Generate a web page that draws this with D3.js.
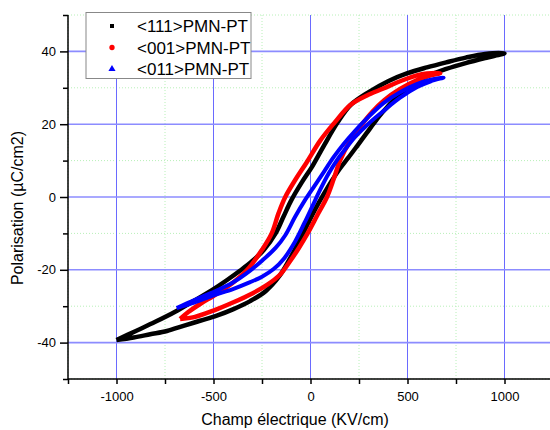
<!DOCTYPE html>
<html>
<head>
<meta charset="utf-8">
<script src="https://cdn.jsdelivr.net/npm/d3@7"></script>
<style>
  body { margin:0; background:#fff; }
  text { font-family: Arial, "Liberation Sans", sans-serif; }
</style>
</head>
<body>
<div id="chart"></div>
<script>
// hysteresis loops: [E (KV/cm), P (uC/cm2)]
let seriesNames = ["<111>PMN-PT", "<001>PMN-PT", "<011>PMN-PT"];
let seriesColors = ["#000000", "#ff0000", "#0000ff"];

let loop111 = [
  [-1000,-39.3],[-912,-38.6],[-826,-37.7],[-740,-36.8],[-655,-35.4],[-569,-34.0],[-483,-32.6],
  [-397,-30.8],[-311,-28.6],[-230,-25.8],[-160,-21.7],[-110,-17.3],[-60,-12.3],[-20,-8],
  [20,-3.8],[65,0.5],[110,4.5],[150,7.7],[195,10.8],[240,14],[290,17.6],[330,20.5],
  [380,23.8],[445,27.4],[514,30.5],[600,33.2],[700,35.2],[800,36.8],[900,38.2],[1000,39.5],
  [900,39.3],[800,38.3],[700,37.0],[600,35.6],[500,34.0],[400,31.8],[300,28.8],[205,25.2],
  [140,20.5],[70,14.2],[10,8.5],[-45,4],[-100,-1],[-140,-5.5],[-180,-10],[-240,-14.5],
  [-300,-17.6],[-362,-20.2],[-430,-22.8],[-500,-25.3],[-600,-28.5],[-700,-31.6],
  [-800,-34.3],[-900,-36.8],[-1000,-39.3]
];
let loop001 = [
  [-672,-33.5],[-600,-33.0],[-500,-31.2],[-400,-29.0],[-300,-26.5],[-220,-24],[-160,-21.5],
  [-110,-18],[-60,-14],[-15,-10],[35,-5],[85,0],[120,5],[152,10],[200,15],[260,19.6],
  [320,23.5],[380,26.6],[460,29.6],[550,32.1],[620,33.4],[669,34.0],
  [600,33.9],[548,33.4],[462,31.8],[376,29.8],[291,27.9],[205,25.3],[125,20.5],[50,15.5],
  [-20,9.5],[-75,5],[-130,0],[-165,-4.5],[-200,-10],[-250,-14.5],[-326,-20],[-397,-23.4],
  [-483,-26.6],[-569,-29.4],[-630,-31.6],[-672,-33.5]
];
let loop011 = [
  [-690,-30.5],[-600,-29.0],[-500,-27.0],[-400,-25.3],[-311,-23.4],[-250,-21.9],[-190,-19.8],
  [-135,-16.8],[-80,-12.3],[-30,-7],[10,-2.5],[50,2],[92,6.3],[135,10],[180,13.2],
  [230,16.5],[300,20.2],[380,23.8],[460,27.2],[550,30.2],[620,31.8],[686,32.8],
  [620,32.2],[548,31.0],[462,28.8],[376,25.8],[291,21.6],[230,18.2],[170,14.5],[120,11],
  [70,7],[20,3],[-30,-1],[-80,-5.5],[-130,-10.5],[-180,-14],[-250,-17.5],[-330,-21],
  [-400,-23.5],[-483,-25.7],[-569,-27.6],[-640,-29.3],[-690,-30.5]
];
let loops = [loop111, loop001, loop011];

let xMajor = [-1000,-500,0,500,1000];
let xMinor = [-1250,-750,-250,250,750,1250];
let yMajor = [-40,-20,0,20,40];
let yMinor = [-50,-30,-10,10,30,50];

let screen = {width:550, height:430};
let margin = {top:15, right:0, bottom:51, left:68};

let xScale = d3.scaleLinear()
               .domain([-1250,1250])
               .range([margin.left, 553]);
let yScale = d3.scaleLinear()
               .domain([-50,50])
               .range([screen.height-margin.bottom, margin.top]);

let svg = d3.select("#chart")
            .append("svg")
            .attr("width",screen.width)
            .attr("height",screen.height);

// grid
let grid = svg.append("g");
grid.selectAll(".gxm").data(xMinor).enter().append("line")
    .attr("x1",d=>xScale(d)).attr("x2",d=>xScale(d))
    .attr("y1",yScale(-50)).attr("y2",yScale(50))
    .attr("stroke","#b8f0b8").attr("stroke-dasharray","1,2");
grid.selectAll(".gym").data(yMinor).enter().append("line")
    .attr("x1",xScale(-1250)).attr("x2",screen.width)
    .attr("y1",d=>yScale(d)).attr("y2",d=>yScale(d))
    .attr("stroke","#b8f0b8").attr("stroke-dasharray","1,2");
grid.selectAll(".gx").data(xMajor).enter().append("line")
    .attr("x1",d=>xScale(d)).attr("x2",d=>xScale(d))
    .attr("y1",yScale(-50)).attr("y2",yScale(50))
    .attr("stroke","#6a6aff").attr("stroke-width",1);
grid.selectAll(".gy").data(yMajor).enter().append("line")
    .attr("x1",xScale(-1250)).attr("x2",screen.width)
    .attr("y1",d=>yScale(d)).attr("y2",d=>yScale(d))
    .attr("stroke","#8c8cff").attr("stroke-width",1.6);

// curves
let line = d3.line()
             .x(d=>xScale(d[0]))
             .y(d=>yScale(d[1]))
             .curve(d3.curveCatmullRom);
let widths = [4.5, 4.5, 4];
svg.selectAll(".loop").data(loops).enter().append("path")
   .attr("d",d=>line(d))
   .attr("fill","none")
   .attr("stroke",(d,i)=>seriesColors[i])
   .attr("stroke-width",(d,i)=>widths[i])
   .attr("stroke-linejoin","round");

// axes
let xAxis = svg.append("g")
               .attr("transform","translate(0,"+yScale(-50)+")");
xAxis.call(d3.axisBottom(xScale).tickValues(xMajor).tickSize(5).tickPadding(8).tickFormat(d=>String(d)));
let xAxisMinor = svg.append("g")
               .attr("transform","translate(0,"+yScale(-50)+")");
xAxisMinor.call(d3.axisBottom(xScale).tickValues(xMinor).tickSize(5).tickFormat(""));
xAxisMinor.select(".domain").remove();

let yAxis = svg.append("g")
               .attr("transform","translate("+margin.left+",0)");
yAxis.call(d3.axisLeft(yScale).tickValues(yMajor).tickSize(8).tickPadding(4).tickFormat(d=>String(d)));
let yAxisMinor = svg.append("g")
               .attr("transform","translate("+margin.left+",0)");
yAxisMinor.call(d3.axisLeft(yScale).tickValues(yMinor).tickSize(5).tickFormat(""));
yAxisMinor.select(".domain").remove();

svg.selectAll(".domain").attr("stroke","#000").attr("stroke-width",1.5);
svg.selectAll(".tick line").attr("stroke","#000").attr("stroke-width",1.5);
svg.selectAll(".tick text").attr("font-size",13).attr("fill","#000")
   .attr("font-family","Arial, 'Liberation Sans', sans-serif");
xAxis.select(".domain").attr("d","M"+margin.left+",0H"+screen.width);
yAxis.select(".domain").attr("d","M0,"+yScale(50)+"V"+yScale(-50));

// axis titles
svg.append("text")
   .attr("x",295).attr("y",425)
   .attr("text-anchor","middle")
   .attr("font-size",16)
   .text("Champ électrique (KV/cm)");
svg.append("text")
   .attr("transform","translate(23,208) rotate(-90)")
   .attr("text-anchor","middle")
   .attr("font-size",16)
   .text("Polarisation (\u00b5C/cm2)");

// legend
let legend = svg.append("g");
legend.append("rect")
      .attr("x",86).attr("y",12.5).attr("width",165).attr("height",66)
      .attr("fill","#fff").attr("stroke","#888").attr("stroke-width",1);
let symbols = [d3.symbolSquare, d3.symbolCircle, d3.symbolTriangle];
let items = legend.selectAll(".item").data(seriesNames).enter().append("g")
      .attr("transform",(d,i)=>"translate(0,"+(26+i*21.5)+")");
items.append("path")
     .attr("transform","translate(112,0)")
     .attr("d",(d,i)=>d3.symbol().type(symbols[i]).size(i==0?16:22)())
     .attr("fill",(d,i)=>seriesColors[i]);
items.append("text")
     .attr("x",137).attr("y",6)
     .attr("font-size",17)
     .text(d=>d);
</script>
</body>
</html>
